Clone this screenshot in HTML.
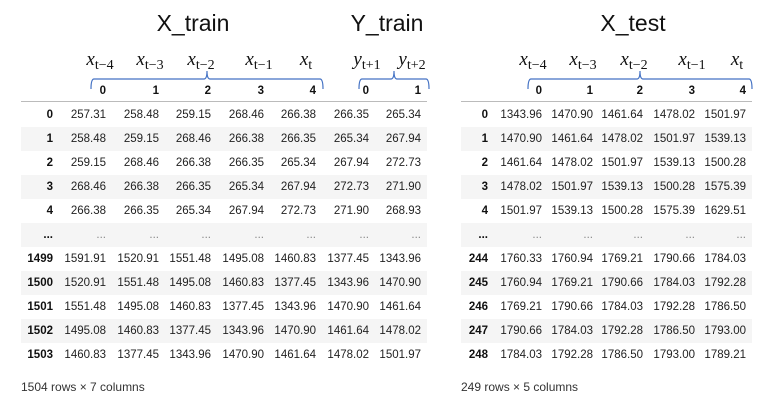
<!DOCTYPE html>
<html><head><meta charset="utf-8"><style>
body{margin:0;width:772px;height:404px;background:#fff;position:relative;overflow:hidden;font-family:"Liberation Sans",Arial,sans-serif;}
.a{position:absolute;white-space:nowrap}
.r{position:absolute;width:100px;text-align:right;font-size:11.5px;color:#222;line-height:14px}
.b{font-weight:bold;color:#111}
.t{position:absolute;font-size:23px;color:#111;transform:translateX(-50%);line-height:26px}
.m{position:absolute;font-family:"Liberation Serif",serif;font-style:italic;font-size:19px;transform:translateX(-50%);line-height:20px;color:#111;white-space:nowrap}
.m sub{font-size:14px;vertical-align:-4px;font-style:normal}
.s{position:absolute;height:24px;background:#f5f5f5}
.f{position:absolute;font-size:12px;color:#333}
</style></head><body>
<div class="t" style="left:193px;top:10px">X_train</div>
<div class="t" style="left:387px;top:10px">Y_train</div>
<div class="t" style="left:633px;top:10px">X_test</div>

<div class="m" style="left:100px;top:50px">x<sub>t−4</sub></div>
<div class="m" style="left:150px;top:50px">x<sub>t−3</sub></div>
<div class="m" style="left:201px;top:50px">x<sub>t−2</sub></div>
<div class="m" style="left:259px;top:50px">x<sub>t−1</sub></div>
<div class="m" style="left:306px;top:50px">x<sub>t</sub></div>
<div class="m" style="left:367px;top:50px">y<sub>t+1</sub></div>
<div class="m" style="left:412px;top:50px">y<sub>t+2</sub></div>
<div class="m" style="left:533px;top:50px">x<sub>t−4</sub></div>
<div class="m" style="left:583px;top:50px">x<sub>t−3</sub></div>
<div class="m" style="left:634px;top:50px">x<sub>t−2</sub></div>
<div class="m" style="left:692px;top:50px">x<sub>t−1</sub></div>
<div class="m" style="left:737px;top:50px">x<sub>t</sub></div>

<svg class="a" style="left:0;top:0" width="772" height="110">
<g fill="none" stroke="#4472c4" stroke-width="1.2">
<path d="M91 89 Q91 79 94 79 L204 79 Q207 79 207 71 Q207 79 210 79 L320 79 Q323 79 323 89"/>
<path d="M359 89 Q359 79 362 79 L391 79 Q394 79 394 71 Q394 79 397 79 L426 79 Q429 79 429 89"/>
<path d="M528 89 Q528 79 531 79 L637 79 Q640 79 640 71 Q640 79 643 79 L749 79 Q752 79 752 89"/>
</g>
<line x1="21" y1="101.5" x2="427" y2="101.5" stroke="#bbb"/>
<line x1="461" y1="101.5" x2="752" y2="101.5" stroke="#bbb"/>
</svg>

<script>
function tbl(x0,x1,idxR,cols,hdr,rows,foot){
 let h='';
 const ys=[103,127,151,175,199,223,247,271,295,319,343];
 for(let i=0;i<11;i++){ if(i%2==1) h+=`<div class="s" style="left:${x0}px;width:${x1-x0}px;top:${ys[i]}px"></div>`; }
 hdr.forEach((c,j)=>{h+=`<div class="r b" style="left:${cols[j]-100}px;top:84px">${c}</div>`});
 rows.forEach((r,i)=>{
  const y=ys[i]+5;
  h+=`<div class="r b" style="left:${idxR-100}px;top:${y}px">${r[0]}</div>`;
  for(let j=1;j<r.length;j++){h+=`<div class="r" style="left:${cols[j-1]-100}px;top:${y}px;${r[j]=='...'?'color:#888':''}">${r[j]}</div>`;}
 });
 h+=`<div class="f" style="left:${x0}px;top:380px">${foot}</div>`;
 document.body.insertAdjacentHTML('beforeend',h);
}
const d='...';
tbl(21,427,53,[106,159,211,264,316,369,421],[0,1,2,3,4,0,1],[
['0','257.31','258.48','259.15','268.46','266.38','266.35','265.34'],
['1','258.48','259.15','268.46','266.38','266.35','265.34','267.94'],
['2','259.15','268.46','266.38','266.35','265.34','267.94','272.73'],
['3','268.46','266.38','266.35','265.34','267.94','272.73','271.90'],
['4','266.38','266.35','265.34','267.94','272.73','271.90','268.93'],
[d,d,d,d,d,d,d,d],
['1499','1591.91','1520.91','1551.48','1495.08','1460.83','1377.45','1343.96'],
['1500','1520.91','1551.48','1495.08','1460.83','1377.45','1343.96','1470.90'],
['1501','1551.48','1495.08','1460.83','1377.45','1343.96','1470.90','1461.64'],
['1502','1495.08','1460.83','1377.45','1343.96','1470.90','1461.64','1478.02'],
['1503','1460.83','1377.45','1343.96','1470.90','1461.64','1478.02','1501.97']],'1504 rows × 7 columns');
tbl(461,752,488,[542,593,643,695,746],[0,1,2,3,4],[
['0','1343.96','1470.90','1461.64','1478.02','1501.97'],
['1','1470.90','1461.64','1478.02','1501.97','1539.13'],
['2','1461.64','1478.02','1501.97','1539.13','1500.28'],
['3','1478.02','1501.97','1539.13','1500.28','1575.39'],
['4','1501.97','1539.13','1500.28','1575.39','1629.51'],
[d,d,d,d,d,d],
['244','1760.33','1760.94','1769.21','1790.66','1784.03'],
['245','1760.94','1769.21','1790.66','1784.03','1792.28'],
['246','1769.21','1790.66','1784.03','1792.28','1786.50'],
['247','1790.66','1784.03','1792.28','1786.50','1793.00'],
['248','1784.03','1792.28','1786.50','1793.00','1789.21']],'249 rows × 5 columns');
</script>
</body></html>
